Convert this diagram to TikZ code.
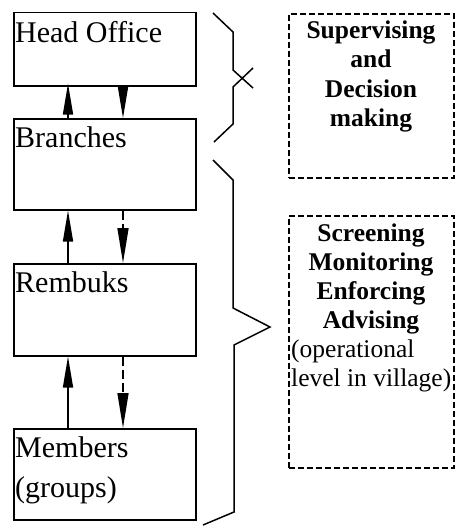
\documentclass[tikz,border=0pt]{standalone}
\usepackage{fontspec}
\setmainfont{Liberation Serif}
\usetikzlibrary{arrows.meta,calc}

\tikzset{
  unitbox/.style={draw, line width=1.5pt, minimum width=182pt, anchor=north west, inner sep=0pt},
  taskbox/.style={draw, line width=1.8pt, dash pattern=on 6pt off 3pt, minimum width=165pt, anchor=north west, inner sep=0pt},
  boxtext/.style={anchor=base west, inner sep=0pt, font=\fontsize{30}{36}\selectfont},
  tasktext/.style={anchor=base, inner sep=0pt, font=\fontsize{25.5}{30}\selectfont\bfseries},
  notetext/.style={anchor=base west, inner sep=0pt, font=\fontsize{25.5}{30}\selectfont},
  flow/.style={line width=1.5pt, -{Triangle[length=31pt, width=10pt]}},
  backflow/.style={line width=1.5pt, dash pattern=on 9pt off 4pt, -{Triangle[length=35pt, width=11pt]}},
  brace/.style={line width=1.5pt, line join=miter},
}

\begin{document}
\begin{tikzpicture}[x=1pt, y=-1pt]
  \useasboundingbox (0,0) rectangle (455,527);

  % organisation levels
  \node[unitbox, minimum height=73pt] (ho) at (13,12) {};
  \node[unitbox, minimum height=91pt] (br) at (13,118) {};
  \node[unitbox, minimum height=92pt] (rb) at (13,263) {};
  \node[unitbox, minimum height=91pt] (mb) at (13,428) {};

  \node[boxtext] (hot) at (15,42) {Head Office};
  \node[boxtext] (brt) at (15,147) {Branches};
  \node[boxtext] (rbt) at (15,292) {Rembuks};
  \node[boxtext] (mbt1) at (15,457) {Members};
  \node[boxtext] (mbt2) at (15,497) {(groups)};

  % reporting upwards, instructions downwards
  \draw[flow] ($(br.north west)+(55,0)$) -- ($(ho.south west)+(55,-3)$);
  \draw[flow] ($(ho.south west)+(110,6)$) -- ($(br.north west)+(110,0)$);
  \draw[flow] ($(rb.north west)+(55,0)$) -- ($(br.south west)+(55,0)$);
  \draw[backflow] ($(br.south west)+(110,0)$) -- ($(rb.north west)+(110,0)$);
  \draw[flow] ($(mb.north west)+(55,0)$) -- ($(rb.south west)+(55,0)$);
  \draw[backflow] ($(rb.south west)+(110,0)$) -- ($(mb.north west)+(110,0)$);

  % braces grouping the levels
  \draw[brace] (213,13) -- (233,32) -- (233,70) -- (253,88);
  \draw[brace] (253,68) -- (233,87) -- (233,124) -- (214,142);
  \draw[brace] (213,160) -- (233,180) -- (233,308) -- (270,327)
               -- (234,345) -- (234,512) -- (203,525);

  % roles
  \node[taskbox, minimum height=164pt] (sup) at (288,13) {};
  \node[tasktext] (s1) at (371,38) {Supervising};
  \node[tasktext] (s2) at (371,67.5) {and};
  \node[tasktext] (s3) at (371,97) {Decision};
  \node[tasktext] (s4) at (371,126.5) {making};

  \node[taskbox, minimum height=252pt] (ops) at (288,215) {};
  \node[tasktext] (o1) at (371,241) {Screening};
  \node[tasktext] (o2) at (371,270) {Monitoring};
  \node[tasktext] (o3) at (371,299) {Enforcing};
  \node[tasktext] (o4) at (371,328) {Advising};
  \node[notetext] (o5) at (291,357) {(operational};
  \node[notetext] (o6) at (291,386) {level in village)};
\end{tikzpicture}
\end{document}
